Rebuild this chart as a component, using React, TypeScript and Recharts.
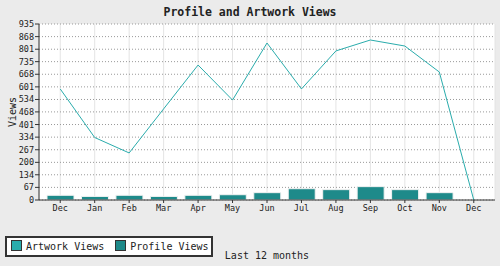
import React from 'react';
import { ComposedChart, Bar, Line, XAxis, YAxis, CartesianGrid } from 'recharts';

const months = ['Dec', 'Jan', 'Feb', 'Mar', 'Apr', 'May', 'Jun', 'Jul', 'Aug', 'Sep', 'Oct', 'Nov', 'Dec'];
const artworkViews = [590, 332, 250, 484, 717, 531, 834, 590, 792, 850, 818, 680, 0];
const profileViews = [25, 19, 25, 19, 25, 28, 39, 60, 55, 71, 55, 39, 0];
const yTicks = [0, 67, 134, 200, 267, 334, 401, 468, 534, 601, 668, 735, 801, 868, 935];

const ARTWORK = '#2aacac';
const PROFILE = '#1e8a8a';
const MONO = '"DejaVu Sans Mono", "Liberation Mono", monospace';

const data = months.map((m, i) => ({
  month: m,
  artwork: artworkViews[i],
  profile: profileViews[i],
}));

const swatch = (color: string): React.CSSProperties => ({
  display: 'inline-block',
  width: 9,
  height: 9,
  background: color,
  border: '1px solid #333',
  marginRight: 4,
  verticalAlign: -1,
});

const App: React.FC = () => {
  const tick = { fontSize: 8.5, fontFamily: MONO, fill: '#222' };
  return (
    <div style={{ position: 'absolute', left: 0, top: 0, width: 500, height: 266, background: '#ebebeb' }}>
      <div
        style={{
          position: 'absolute',
          left: 0,
          top: 5,
          width: 500,
          textAlign: 'center',
          fontFamily: MONO,
          fontWeight: 'bold',
          fontSize: 11.5,
          color: '#222',
        }}
      >
        Profile and Artwork Views
      </div>
      <ComposedChart width={500} height={266} data={data} margin={{ top: 24, right: 5, bottom: 0, left: 0 }}>
        <CartesianGrid horizontal={false} stroke="#e4e4e4" fill="#fff" />
        <CartesianGrid vertical={false} stroke="#999" strokeDasharray="1 2" />
        <XAxis
          dataKey="month"
          interval={0}
          height={66}
          padding={{ left: 4, right: 4 }}
          tickSize={3}
          tick={tick}
          axisLine={{ stroke: '#333' }}
          tickLine={{ stroke: '#333' }}
          label={{ value: 'Last 12 months', position: 'insideBottom', offset: 7, dx: 0, fontSize: 10, fontFamily: MONO, fill: '#222' }}
        />
        <XAxis xAxisId="top" dataKey="month" orientation="top" height={0} tick={false} tickLine={false} axisLine={{ stroke: '#aaa' }} />
        <YAxis
          width={39}
          domain={[0, 935]}
          ticks={yTicks}
          interval={0}
          tickSize={4}
          tickMargin={1}
          tick={tick}
          axisLine={{ stroke: '#333' }}
          tickLine={{ stroke: '#333' }}
          label={{ value: 'Views', angle: -90, position: 'center', dx: -7, fontSize: 10, fontFamily: MONO, fill: '#222' }}
        />
        <YAxis yAxisId="right" orientation="right" width={0} domain={[0, 935]} tick={false} tickLine={false} axisLine={{ stroke: '#aaa' }} />
        <Bar dataKey="profile" fill={PROFILE} stroke="#f2f2f2" strokeWidth={1} barSize={27} isAnimationActive={false} />
        <Line type="linear" dataKey="artwork" stroke={ARTWORK} strokeWidth={1} dot={false} activeDot={false} isAnimationActive={false} />
      </ComposedChart>
      <div
        style={{
          position: 'absolute',
          left: 5,
          top: 236,
          width: 204,
          height: 17,
          border: '2px solid #333',
          background: '#fff',
          fontFamily: MONO,
          fontSize: 10,
          color: '#222',
          lineHeight: '17px',
          whiteSpace: 'nowrap',
          overflow: 'hidden',
        }}
      >
        <span style={{ marginLeft: 4 }} />
        <span style={swatch(ARTWORK)} />
        Artwork Views
        <span style={{ marginLeft: 11 }} />
        <span style={swatch(PROFILE)} />
        Profile Views
      </div>
    </div>
  );
};

export default App;
